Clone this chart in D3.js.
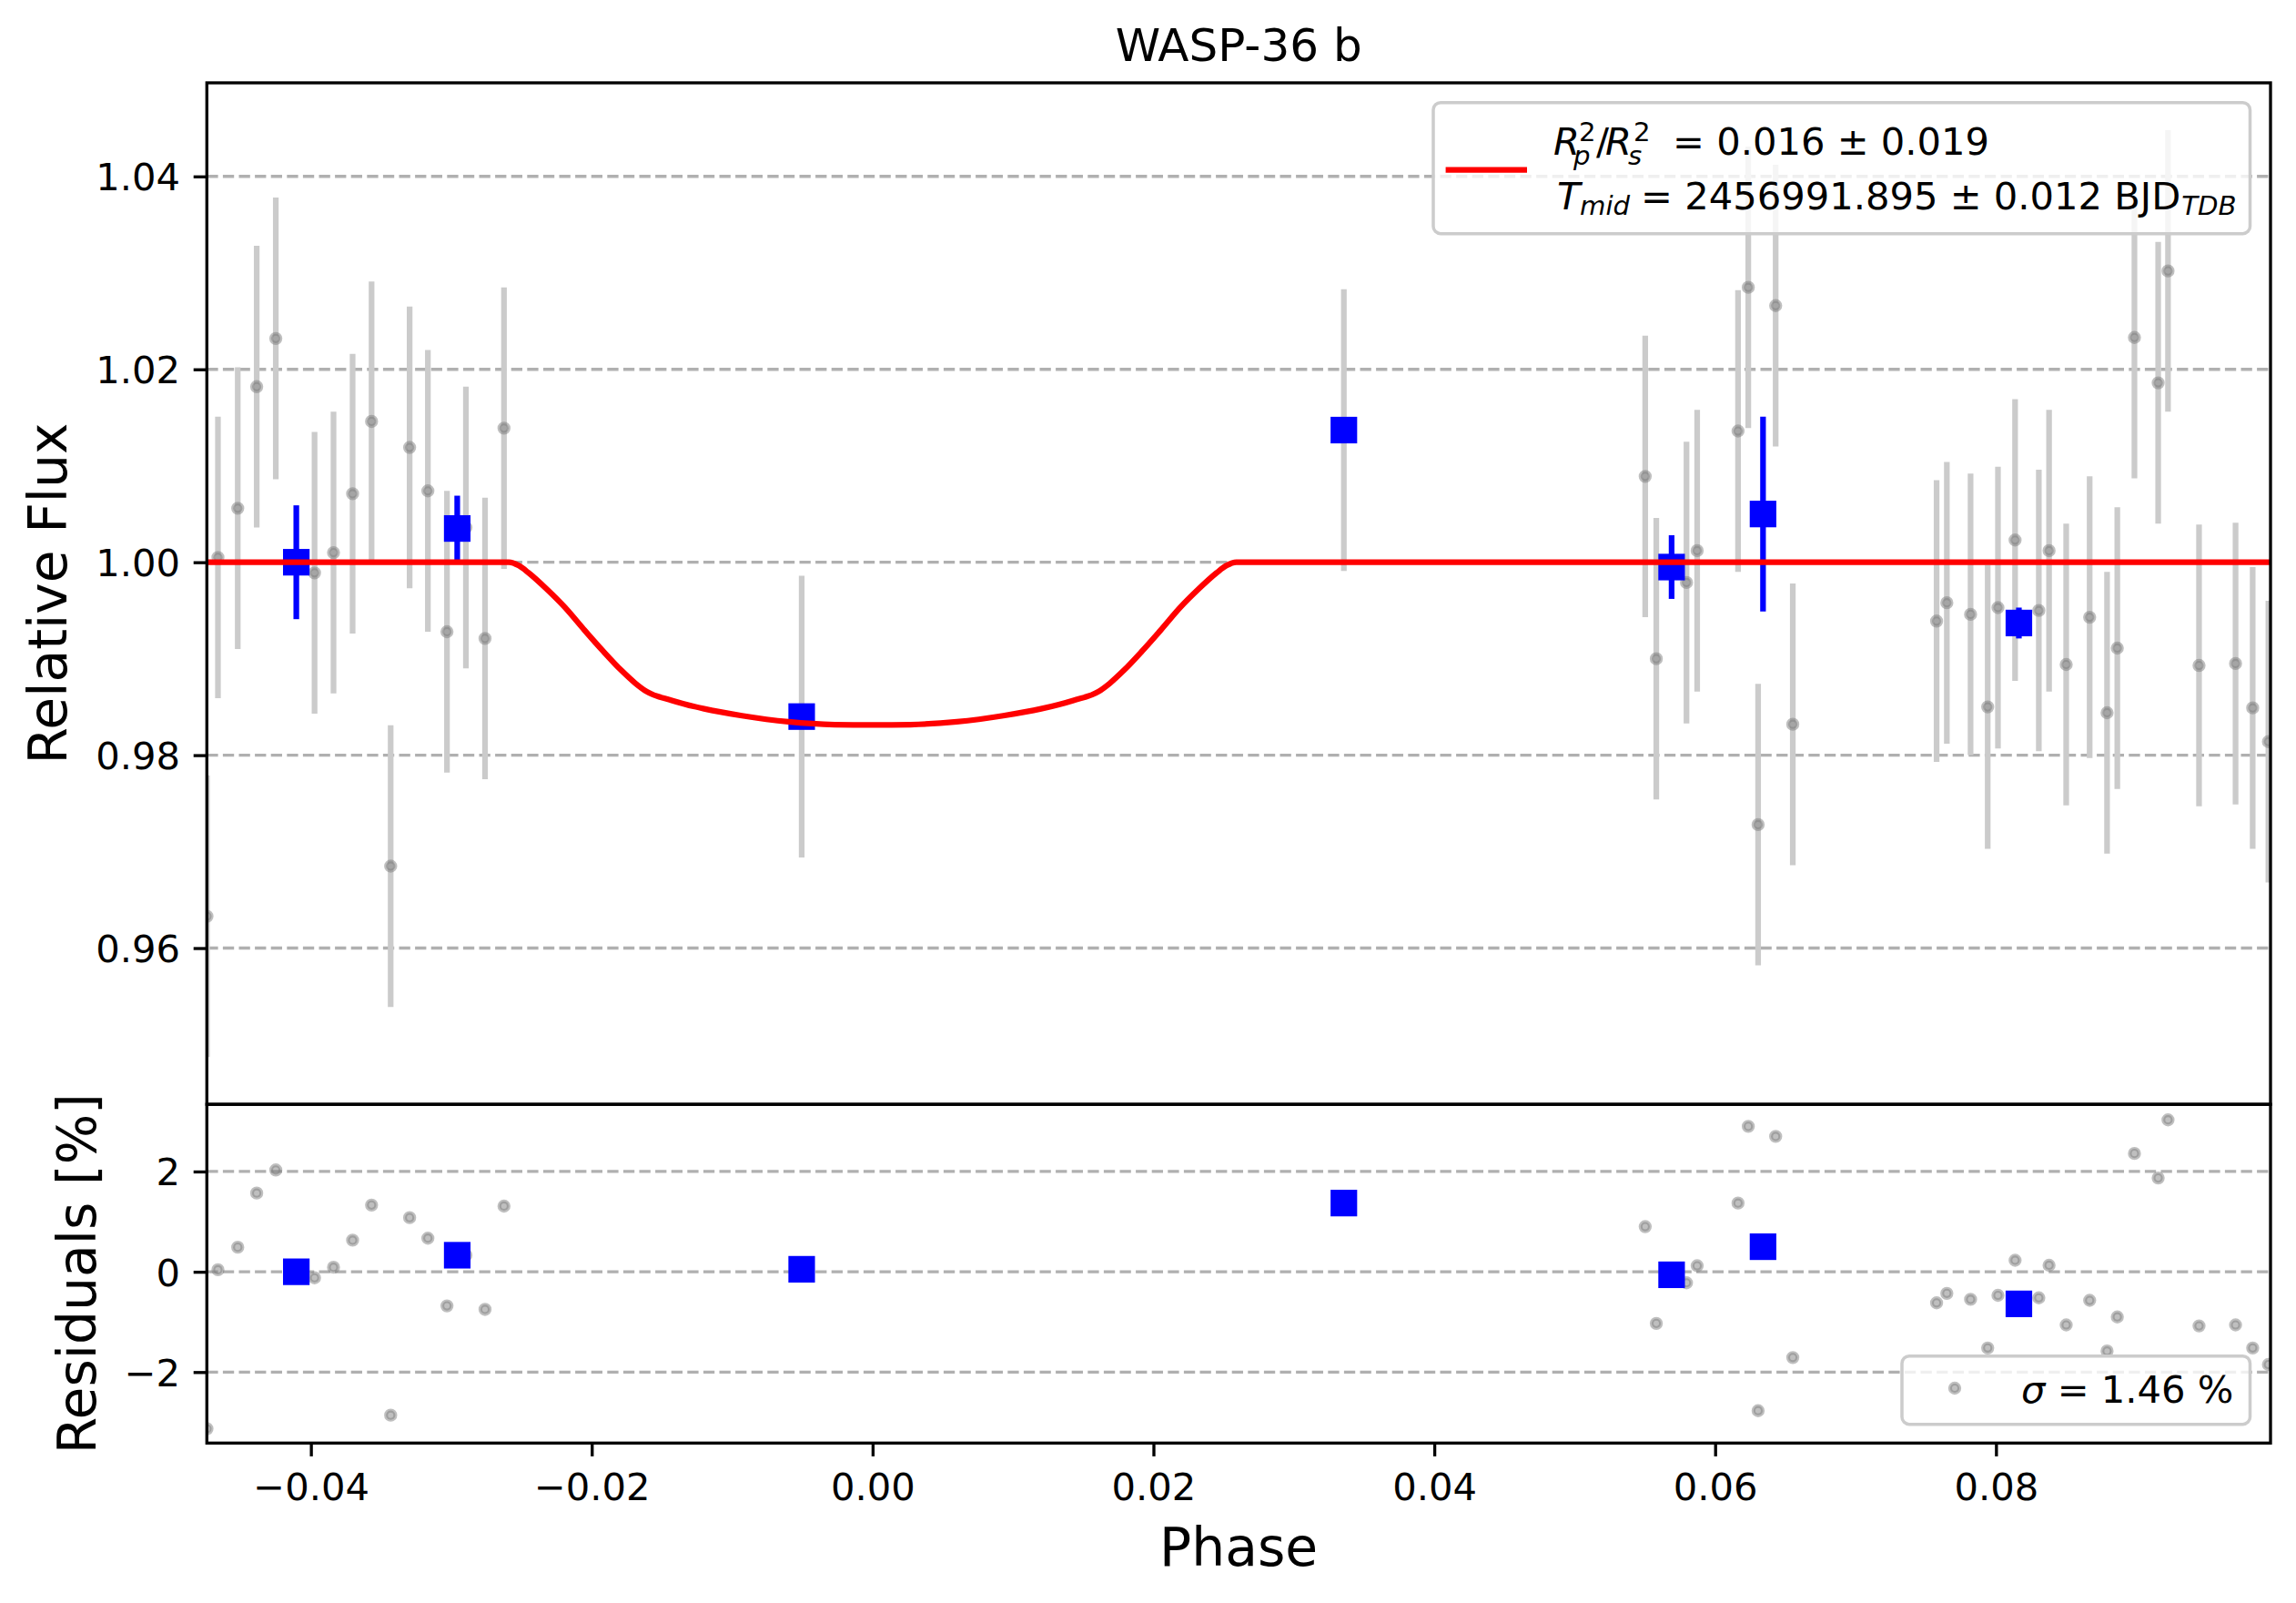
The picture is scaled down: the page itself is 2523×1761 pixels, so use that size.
<!DOCTYPE html>
<html>
<head>
<meta charset="utf-8">
<script src="https://cdn.jsdelivr.net/npm/d3@7"></script>
<style>
  body { margin: 0; background: #fff; }
  svg { display: block; }
  text { font-family: "DejaVu Sans", sans-serif; }
</style>
</head>
<body>
<script>
// raw points (phase, relative flux, error, residual in %)
const phase = [-0.0474, -0.04662, -0.04521, -0.04386, -0.0425, -0.03974, -0.03839, -0.03703, -0.03568, -0.03432,
  -0.03297, -0.03167, -0.03031, -0.02896, -0.0276, -0.02625, -0.00505, 0.03356,
  0.05502, 0.05581, 0.05796, 0.05872, 0.06163, 0.06236, 0.06306, 0.06431, 0.06553,
  0.07577, 0.0765, 0.07819, 0.07941, 0.08014, 0.08136, 0.08305, 0.08378, 0.0850, 0.08667,
  0.08791, 0.08864, 0.08986, 0.09155, 0.09225, 0.09446, 0.09706, 0.09828, 0.0994];
const flux = [0.9633, 1.0005, 1.0056, 1.0182, 1.0232, 0.9989, 1.0010, 1.0071, 1.0146, 0.9685,
  1.0119, 1.0074, 0.9928, 1.0036, 0.9921, 1.0139, 0.9840, 1.0137,
  1.0089, 0.9900, 0.9979, 1.0012, 1.0136, 1.0285, 0.9728, 1.0266, 0.9832,
  0.9939, 0.9958, 0.9946, 0.9850, 0.9953, 1.0023, 0.9950, 1.0012, 0.9894, 0.9943,
  0.9844, 0.9911, 1.0233, 1.0186, 1.0302, 0.9893, 0.9895, 0.9849, 0.9814];
const fluxErr = [0.0146, 0.0146, 0.0146, 0.0146, 0.0146, 0.0146, 0.0146, 0.0145, 0.0145, 0.0146,
  0.0146, 0.0146, 0.0146, 0.0146, 0.0146, 0.0146, 0.0146, 0.0146,
  0.0146, 0.0146, 0.0146, 0.0146, 0.0146, 0.0146, 0.0146, 0.0146, 0.0146,
  0.0146, 0.0146, 0.0146, 0.0147, 0.0146, 0.0146, 0.0146, 0.0146, 0.0146, 0.0146,
  0.0146, 0.0146, 0.0146, 0.0146, 0.0146, 0.0146, 0.0146, 0.0146, 0.0146];
const resid = [-3.13, 0.04, 0.49, 1.57, 2.03, -0.12, 0.09, 0.63, 1.33, -2.86,
  1.08, 0.67, -0.68, 0.33, -0.75, 1.31, 0.05, 1.37,
  0.90, -1.03, -0.22, 0.12, 1.37, 2.90, -2.77, 2.70, -1.71,
  -0.62, -0.43, -0.55, -1.52, -0.47, 0.23, -0.52, 0.13, -1.06, -0.57,
  -1.58, -0.90, 2.36, 1.87, 3.03, -1.08, -1.06, -1.52, -1.85];

// binned points
const binPhase = [-0.04104, -0.02958, -0.00505, 0.03356, 0.0569, 0.06341, 0.08163];
const binFlux = [1.0000, 1.0035, 0.9840, 1.0137, 0.9995, 1.0050, 0.9937];
const binErr = [0.0059, 0.0034, 0.0, 0.0, 0.0033, 0.0101, 0.0016];
const binResid = [0.00, 0.33, 0.05, 1.37, -0.06, 0.50, -0.64];

// transit model
const modelPhase = [-0.0475, -0.0259, -0.0252, -0.0245, -0.0232, -0.0219, -0.0206, -0.0192, -0.0179, -0.0169,
  -0.0161, -0.0143, -0.0120, -0.0093, -0.0060, -0.0027, 0.0, 0.0027, 0.0060, 0.0093, 0.0120, 0.0143,
  0.0161, 0.0169, 0.0179, 0.0192, 0.0206, 0.0219, 0.0232, 0.0245, 0.0252, 0.0259, 0.0996];
const modelFlux = [1.0, 1.0, 0.99965, 0.9989, 0.9972, 0.9953, 0.9931, 0.9908, 0.9888, 0.98746,
  0.9866, 0.98568, 0.98481, 0.98409, 0.98346, 0.98317, 0.98313, 0.98317, 0.98346, 0.98409, 0.98481, 0.98568,
  0.9866, 0.98746, 0.9888, 0.9908, 0.9931, 0.9953, 0.9972, 0.9989, 0.99965, 1.0, 1.0];

const phaseTicks = [-0.04, -0.02, 0.00, 0.02, 0.04, 0.06, 0.08];
const fluxTicks = [0.96, 0.98, 1.00, 1.02, 1.04];
const residTicks = [-2, 0, 2];

const W = 2523, H = 1761;
const fs = 41.67, sfs = 29.2;
const pL = 227.3, pR = 2495, pT = 91, pM = 1213.2, pB = 1585.3;

const svg = d3.select("body").append("svg").attr("width", W).attr("height", H);

const x = d3.scaleLinear().domain([-0.04741, 0.09955]).range([pL, pR]);
const y = d3.scaleLinear().domain([0.9438, 1.0497]).range([pM, pT]);
const yr = d3.scaleLinear().domain([-3.416, 3.339]).range([pB, pM]);

const defs = svg.append("defs");
defs.append("clipPath").attr("id", "clipTop").append("rect")
  .attr("x", pL).attr("y", pT).attr("width", pR - pL).attr("height", pM - pT);
defs.append("clipPath").attr("id", "clipRes").append("rect")
  .attr("x", pL).attr("y", pM).attr("width", pR - pL).attr("height", pB - pM);

const minus = s => s.replace(/-/g, "\u2212");

// grid
function grid(scale, ticks) {
  svg.append("g").selectAll("line").data(ticks).enter().append("line")
    .attr("x1", pL).attr("x2", pR)
    .attr("y1", d => scale(d)).attr("y2", d => scale(d))
    .attr("stroke", "#b0b0b0").attr("stroke-width", 3.33)
    .attr("stroke-dasharray", "12.3,5.3");
}
grid(y, fluxTicks);
grid(yr, residTicks);

const pts = phase.map((p, i) => ({p: p, f: flux[i], e: fluxErr[i], r: resid[i]}));
const bins = binPhase.map((p, i) => ({p: p, f: binFlux[i], e: binErr[i], r: binResid[i]}));

// top panel
const gTop = svg.append("g").attr("clip-path", "url(#clipTop)");
gTop.selectAll("line.err").data(pts).enter().append("line")
  .attr("x1", d => x(d.p)).attr("x2", d => x(d.p))
  .attr("y1", d => y(d.f - d.e)).attr("y2", d => y(d.f + d.e))
  .attr("stroke", "#cbcbcb").attr("stroke-width", 6.25);
gTop.selectAll("circle").data(pts).enter().append("circle")
  .attr("cx", d => x(d.p)).attr("cy", d => y(d.f)).attr("r", 5.1)
  .attr("fill", "#808080").attr("fill-opacity", 0.5)
  .attr("stroke", "#808080").attr("stroke-opacity", 0.5).attr("stroke-width", 4.17);
gTop.selectAll("line.berr").data(bins.filter(d => d.e > 0)).enter().append("line")
  .attr("x1", d => x(d.p)).attr("x2", d => x(d.p))
  .attr("y1", d => y(d.f - d.e)).attr("y2", d => y(d.f + d.e))
  .attr("stroke", "#0000ff").attr("stroke-width", 6.25);
gTop.selectAll("rect").data(bins).enter().append("rect")
  .attr("x", d => x(d.p) - 14.6).attr("y", d => y(d.f) - 14.6)
  .attr("width", 29.2).attr("height", 29.2).attr("fill", "#0000ff");
const model = modelPhase.map((p, i) => [p, modelFlux[i]]);
gTop.append("path").datum(model)
  .attr("d", d3.line().x(d => x(d[0])).y(d => y(d[1])).curve(d3.curveMonotoneX))
  .attr("fill", "none").attr("stroke", "#ff0000").attr("stroke-width", 6.25)
  .attr("stroke-linejoin", "round");

// residual panel
const gRes = svg.append("g").attr("clip-path", "url(#clipRes)");
gRes.selectAll("circle").data(pts).enter().append("circle")
  .attr("cx", d => x(d.p)).attr("cy", d => yr(d.r)).attr("r", 5.1)
  .attr("fill", "#808080").attr("fill-opacity", 0.5)
  .attr("stroke", "#808080").attr("stroke-opacity", 0.5).attr("stroke-width", 4.17);
gRes.selectAll("rect").data(bins).enter().append("rect")
  .attr("x", d => x(d.p) - 14.6).attr("y", d => yr(d.r) - 14.6)
  .attr("width", 29.2).attr("height", 29.2).attr("fill", "#0000ff");

// spines
[[pT, pM], [pM, pB]].forEach(r => {
  svg.append("rect").attr("x", pL).attr("y", r[0]).attr("width", pR - pL).attr("height", r[1] - r[0])
    .attr("fill", "none").attr("stroke", "#000").attr("stroke-width", 3.33);
});

// axes
function styleAxis(g, dy) {
  g.select(".domain").remove();
  g.attr("font-size", fs).attr("font-family", "DejaVu Sans");
  g.selectAll(".tick line").attr("stroke", "#000").attr("stroke-width", 3.33);
  g.selectAll(".tick text").attr("fill", "#000").attr("dy", dy);
}
styleAxis(svg.append("g").attr("transform", `translate(${pL},0)`)
  .call(d3.axisLeft(y).tickValues(fluxTicks).tickSize(14.6).tickPadding(14.6)
    .tickFormat(d => d3.format(".2f")(d))), "0.36em");
styleAxis(svg.append("g").attr("transform", `translate(${pL},0)`)
  .call(d3.axisLeft(yr).tickValues(residTicks).tickSize(14.6).tickPadding(14.6)
    .tickFormat(d => minus(d3.format("d")(d)))), "0.36em");
styleAxis(svg.append("g").attr("transform", `translate(0,${pB})`)
  .call(d3.axisBottom(x).tickValues(phaseTicks).tickSize(14.6).tickPadding(14.6)
    .tickFormat(d => minus(d3.format(".2f")(d)))), "0.81em");

// titles and labels
svg.append("text").attr("x", (pL + pR) / 2).attr("y", 67).attr("text-anchor", "middle")
  .attr("font-size", 50).text("WASP-36 b");
svg.append("text").attr("x", (pL + pR) / 2).attr("y", 1720).attr("text-anchor", "middle")
  .attr("font-size", 58.33).text("Phase");
svg.append("text").attr("transform", `translate(73,${(pT + pM) / 2}) rotate(-90)`)
  .attr("text-anchor", "middle").attr("font-size", 58.33).text("Relative Flux");
svg.append("text").attr("transform", `translate(104.5,${(pM + pB) / 2}) rotate(-90)`)
  .attr("text-anchor", "middle").attr("font-size", 58.33).text("Residuals [%]");

// legend (top): each label line is one text with positioned tspans (mathtext-like layout)
function mathLine(g, parts) {
  const t = g.append("text").attr("fill", "#000");
  parts.forEach(p => {
    t.append("tspan").attr("x", p[0]).attr("y", p[1]).attr("font-size", p[2])
      .attr("font-style", p[3] ? "italic" : "normal").text(p[4]);
  });
  return t;
}
const L = svg.append("g");
L.append("rect").attr("x", 1575).attr("y", 112.7).attr("width", 897.5).attr("height", 144)
  .attr("rx", 8).attr("fill", "#fff").attr("fill-opacity", 0.8)
  .attr("stroke", "#cccccc").attr("stroke-width", 3.5);
L.append("line").attr("x1", 1588.6).attr("x2", 1678).attr("y1", 186.7).attr("y2", 186.7)
  .attr("stroke", "#ff0000").attr("stroke-width", 6.25);
mathLine(L, [
  [1707, 170, fs, true, "R"],
  [1735, 155, sfs, false, "2"],
  [1729, 180.5, sfs, true, "p"],
  [1754, 170, fs, false, "/"],
  [1764, 170, fs, true, "R"],
  [1795, 155, sfs, false, "2"],
  [1789, 180.5, sfs, true, "s"],
  [1838, 170, fs, false, "= 0.016 \u00b1 0.019"]
]);
const line2 = mathLine(L, [
  [1711, 230, fs, true, "T"],
  [1736, 235.5, sfs, true, "mid"],
  [1803, 230, fs, false, "= 2456991.895 \u00b1 0.012 BJD"]
]);
const lastSpan = line2.selectAll("tspan").nodes()[2];
line2.append("tspan").attr("x", 1803 + lastSpan.getComputedTextLength() + 1).attr("y", 236)
  .attr("font-size", sfs).attr("font-style", "italic").text("TDB");

// legend (residuals)
const RL = svg.append("g");
RL.append("rect").attr("x", 2090).attr("y", 1489.7).attr("width", 382.5).attr("height", 75)
  .attr("rx", 8).attr("fill", "#fff").attr("fill-opacity", 0.8)
  .attr("stroke", "#cccccc").attr("stroke-width", 3.5);
RL.append("circle").attr("cx", 2148).attr("cy", 1525).attr("r", 5.1)
  .attr("fill", "#808080").attr("fill-opacity", 0.5)
  .attr("stroke", "#808080").attr("stroke-opacity", 0.5).attr("stroke-width", 4.17);
const st = RL.append("text").attr("x", 2221).attr("y", 1540.7).attr("font-size", fs).attr("fill", "#000");
st.append("tspan").attr("font-style", "italic").text("\u03c3");
st.append("tspan").text(" = 1.46 %");
</script>
</body>
</html>
